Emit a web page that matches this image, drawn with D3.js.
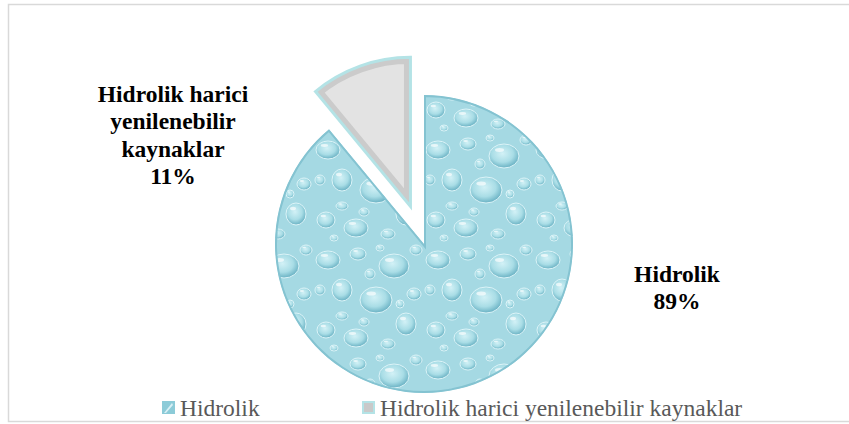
<!DOCTYPE html>
<html>
<head>
<meta charset="utf-8">
<script src="https://cdn.jsdelivr.net/npm/d3@7"></script>
<style>
  body { margin: 0; background: #fff; }
  svg { display: block; }
</style>
</head>
<body>
<div id="chart"></div>
<script>
var w = 849, h = 424;

var categories = ["Hidrolik", "Hidrolik harici yenilenebilir kaynaklar"];
var values = [89, 11];
var labelLines = [["Hidrolik", "89%"], ["Hidrolik harici", "yenilenebilir", "kaynaklar", "11%"]];

// droplet texture (decoration only) - x, y, rx, ry inside a 110x110 tile
var drops = [[14, 16, 12, 9], [44, 10, 8, 6], [80, 22, 15, 12], [28, 46, 10, 11], [62, 56, 16, 13],
             [12, 86, 9, 8], [42, 94, 12, 9], [92, 80, 10, 11], [6, 46, 5, 5], [74, 100, 7, 5],
             [100, 50, 7, 6], [28, 72, 6, 4], [56, 30, 5, 5], [102, 6, 6, 5], [86, 60, 4, 4],
             [50, 78, 5, 4], [66, 4, 4, 3], [20, 104, 4, 3]];
var serif = "'Liberation Serif'";

var cx = 424, cy = 244, r = 149;

var svg = d3.select("#chart").append("svg")
    .attr("width", w)
    .attr("height", h);

var defs = svg.append("defs");

var g1 = defs.append("radialGradient").attr("id", "dropGrad")
    .attr("cx", "45%").attr("cy", "40%").attr("r", "60%");
g1.append("stop").attr("offset", "0%").attr("stop-color", "#d2f1f6");
g1.append("stop").attr("offset", "60%").attr("stop-color", "#a9dde6");
g1.append("stop").attr("offset", "100%").attr("stop-color", "#69b1c3");

var pat = defs.append("pattern").attr("id", "water")
    .attr("patternUnits", "userSpaceOnUse")
    .attr("width", 110).attr("height", 110);
pat.append("rect").attr("width", 110).attr("height", 110).attr("fill", "#a5d9e3");
pat.selectAll("ellipse.d")
    .data(drops)
    .enter()
    .append("ellipse")
    .attr("cx", function(d) { return d[0]; })
    .attr("cy", function(d) { return d[1]; })
    .attr("rx", function(d) { return d[2]; })
    .attr("ry", function(d) { return d[3]; })
    .attr("fill", "url(#dropGrad)")
    .attr("stroke", "#dcf4f8")
    .attr("stroke-width", 1);
pat.selectAll("ellipse.hl")
    .data(drops)
    .enter()
    .append("ellipse")
    .attr("cx", function(d) { return d[0] - d[2] * 0.3; })
    .attr("cy", function(d) { return d[1] - d[3] * 0.5; })
    .attr("rx", function(d) { return d[2] * 0.3; })
    .attr("ry", function(d) { return d[3] * 0.16; })
    .attr("fill", "#ffffff")
    .attr("opacity", 0.65);

// chart border
svg.append("rect")
    .attr("x", 8.5).attr("y", 4.5)
    .attr("width", w + 10).attr("height", 417)
    .attr("fill", "#fff")
    .attr("stroke", "#d9d9d9")
    .attr("stroke-width", 1.5);

var pie = d3.pie().sort(null);
var arcs = pie(values);
var arc = d3.arc().innerRadius(0).outerRadius(r);
var explode = [0, 40];

var slices = svg.selectAll(".slice")
    .data(arcs)
    .enter()
    .append("g")
    .attr("class", "slice")
    .attr("transform", function(d, i) {
        var a = (d.startAngle + d.endAngle) / 2;
        return "translate(" + (cx + Math.sin(a) * explode[i]) + "," + (cy - Math.cos(a) * explode[i]) + ")";
    });

slices.append("clipPath")
    .attr("id", function(d, i) { return "clip" + i; })
    .append("path")
    .attr("d", arc);

slices.append("path")
    .attr("d", arc)
    .attr("clip-path", function(d, i) { return "url(#clip" + i + ")"; })
    .attr("fill", function(d, i) { return i === 0 ? "url(#water)" : "#e3e3e3"; })
    .attr("stroke", function(d, i) { return i === 0 ? "#84c3d1" : "#cbcbcb"; })
    .attr("stroke-width", function(d, i) { return i === 0 ? 4 : 13; })
    .attr("stroke-linejoin", "miter");

slices.filter(function(d, i) { return i === 1; })
    .append("path")
    .attr("d", arc)
    .attr("fill", "none")
    .attr("stroke", "#b4e3e6")
    .attr("stroke-width", 3)
    .attr("stroke-linejoin", "miter");

// data labels
var labelPos = [[677, 282], [173, 102]];
labelLines.forEach(function(lines, i) {
    var t = svg.append("text")
        .attr("x", labelPos[i][0])
        .attr("y", labelPos[i][1])
        .attr("text-anchor", "middle")
        .style("font-family", serif)
        .style("font-weight", "bold")
        .style("font-size", "23.5px")
        .attr("fill", "#000");
    lines.forEach(function(s, j) {
        t.append("tspan")
            .attr("x", labelPos[i][0])
            .attr("dy", j === 0 ? 0 : 27.3)
            .text(s);
    });
});

// legend
var legX = [162, 362];
var leg = svg.selectAll(".leg")
    .data(categories)
    .enter()
    .append("g")
    .attr("class", "leg")
    .attr("transform", function(d, i) { return "translate(" + legX[i] + ",401)"; });

leg.append("rect")
    .attr("x", function(d, i) { return i === 0 ? 0 : 1; })
    .attr("y", function(d, i) { return i === 0 ? 0 : 1; })
    .attr("width", function(d, i) { return i === 0 ? 13 : 11; })
    .attr("height", function(d, i) { return i === 0 ? 13 : 11; })
    .attr("fill", function(d, i) { return i === 0 ? "#8ccbd8" : "#c9c9c9"; })
    .attr("stroke", function(d, i) { return i === 0 ? "none" : "#b4e3e6"; })
    .attr("stroke-width", 2);
leg.filter(function(d, i) { return i === 0; })
    .append("path")
    .attr("d", "M2,12 L10,2 L11,4 L4,12 Z")
    .attr("fill", "#d8f0f5");

leg.append("text")
    .attr("x", 18)
    .attr("y", 15)
    .style("font-family", serif)
    .style("font-size", "23.5px")
    .attr("fill", "#595959")
    .text(function(d) { return d; });
</script>
</body>
</html>
